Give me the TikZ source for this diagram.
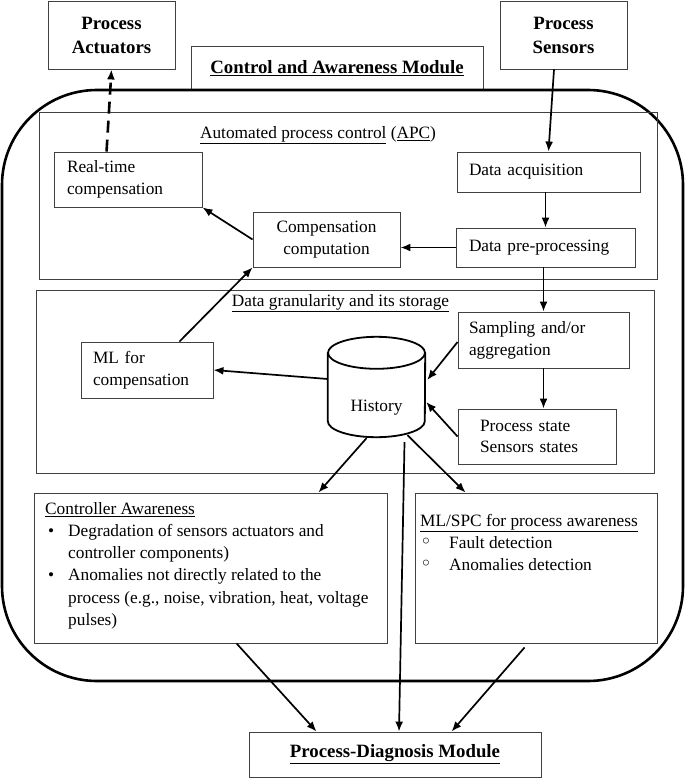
\documentclass[tikz,border=0pt]{standalone}
\usepackage{fontspec}
\setmainfont{Liberation Serif}
\newfontfamily\symfont{DejaVu Sans}
\usetikzlibrary{%
  arrows.meta,%
  calc,%
  positioning%
}
\tikzset{>={Latex[length=10pt,width=8pt]}}
\tikzset{
  box/.style={draw=black!75, line width=0.9pt, rectangle, inner ysep=0pt,
    align=left, font=\fontsize{17.3}{21.8}\selectfont},
  headbox/.style={draw=black!75, line width=0.9pt, rectangle, align=center,
    font=\bfseries\fontsize{18.8}{24}\selectfont},
  panel/.style={draw=black!75, line width=0.9pt, rectangle, inner sep=0pt},
  frame/.style={draw, line width=2.6pt, rectangle, rounded corners=95pt, inner sep=0pt},
  txt/.style={inner sep=0pt, align=left, font=\fontsize{17.3}{22.2}\selectfont},
  cyl/.style={line width=1.8pt},
  flow/.style={->, line width=1.7pt}
}
\newcommand{\hollow}{{\symfont\fontsize{20}{20}\selectfont ◦}}

\begin{document}
\begin{tikzpicture}[x=1pt, y=-1pt]
  \useasboundingbox[fill=white] (0,0) rectangle (685,778);

  % outside blocks
  \node[headbox, minimum width=127pt, minimum height=68pt] (act) at (111.5,35) {Process\\Actuators};
  \node[headbox, minimum width=127pt, minimum height=68pt] (sens) at (563.5,35) {Process\\Sensors};
  \node[headbox, minimum width=292pt, minimum height=44pt] (cam) at (337,68) {\underline{Control and Awareness Module}};
  \node[frame, minimum width=681pt, minimum height=591pt] (module) at (342.5,385.5) {};
  \node[headbox, minimum width=292pt, minimum height=45pt] (pd) at (395,754.5) {\underline{Process-Diagnosis Module}};

  % APC
  \node[panel, minimum width=618pt, minimum height=167pt] (apc) at (348,195.5) {};
  \node[txt] (apctitle) at (318,135) {\underline{Automated process control} (\underline{APC})};
  \node[box, minimum height=55pt, text width=122pt, inner xsep=13pt] (rt) at (128,179.5) {Real-time\\compensation};
  \node[box, minimum height=40pt, text width=159pt, inner xsep=12pt] (acq) at (548.5,172) {Data acquisition};
  \node[box, minimum height=55pt, text width=127pt, inner xsep=10pt, align=center] (cc) at (326.5,239.5) {Compensation\\computation};
  \node[box, minimum height=39pt, text width=153pt, inner xsep=13pt] (pre) at (545.5,247.5) {Data pre-processing};

  % data granularity
  \node[panel, minimum width=618pt, minimum height=183pt] (dg) at (345,381.5) {};
  \node[txt] (dgtitle) at (340.5,303) {\underline{Data granularity and its storage}};
  \node[box, minimum height=56pt, text width=149pt, inner xsep=11pt] (samp) at (543.5,340) {Sampling and/or\\aggregation};
  \node[box, minimum height=56pt, text width=108pt, inner xsep=12pt] (ml) at (147,370) {ML for\\compensation};
  \node[box, minimum height=55pt, text width=114pt, inner xsep=22pt] (st) at (537,436.5) {Process state\\Sensors states};
  \node[txt, minimum width=97pt, minimum height=100pt] (hist) at (376.5,387) {\raisebox{-24pt}[0pt][0pt]{History}};
  \draw[cyl] ($(hist.north)+(0,16)$) ellipse (48.5pt and 16pt);
  \draw[cyl] ($(hist.north west)+(0,16)$) -- ($(hist.south west)+(0,-16)$)
    arc[start angle=180, end angle=360, x radius=48.5pt, y radius=16pt]
    -- ($(hist.north east)+(0,16)$);

  % awareness
  \node[panel, minimum width=353pt, minimum height=150pt] (ca) at (210.5,568) {};
  \node[txt, anchor=north west] (catxt) at (45,502) {\underline{Controller Awareness}\\
    \makebox[23pt][l]{\hspace{3pt}\textbullet}Degradation of sensors actuators and\\
    \hspace*{23pt}controller components)\\
    \makebox[23pt][l]{\hspace{3pt}\textbullet}Anomalies not directly related to the\\
    \hspace*{23pt}process (e.g., noise, vibration, heat, voltage\\
    \hspace*{23pt}pulses)};
  \node[panel, minimum width=242pt, minimum height=150pt] (mlspc) at (536,568) {};
  \node[txt, anchor=north west] (mlspctxt) at (420,514) {\underline{ML/SPC for process awareness}\\
    \makebox[29pt][l]{\hspace{0pt}\hollow}Fault detection\\
    \makebox[29pt][l]{\hspace{0pt}\hollow}Anomalies detection};

  % connectors
  \draw[flow, dash pattern=on 12pt off 7pt, line width=2.6pt] ($(rt.north west)+(53,0)$) -- (act.south);
  \draw[flow] ($(sens.south)+(-9.5,0)$) -- (acq.north);
  \draw[flow] (pre.north |- acq.south) -- (pre.north);
  \draw[flow] (pre.west) -- (pre.west -| cc.east);
  \draw[flow] (cc.west) -- (rt.south east);
  \draw[flow] ($(ml.north east)+(-34,0)$) -- (cc.south west);
  \draw[flow] (samp.north |- pre.south) -- (samp.north);
  \draw[flow] (samp.south) -- (samp.south |- st.north);
  \draw[flow] ($(samp.west)+(0,2)$) -- ($(hist.east)+(2,-7)$);
  \draw[flow] (st.west) -- ($(hist.east)+(1,15)$);
  \draw[flow] ($(hist.west)+(0,-8)$) -- (ml.east);
  \draw[flow] ($(hist.south)+(-10,1)$) -- ($(ca.north east)+(-69,0)$);
  \draw[flow] ($(hist.south)+(31,-2)$) -- ($(mlspc.north west)+(51,0)$);
  \draw[flow] ($(hist.south)+(28,5)$) -- ($(pd.north)+(4,0)$);
  \draw[flow] ($(ca.south west)+(203,0)$) -- ($(pd.north west)+(68,0)$);
  \draw[flow] ($(mlspc.south west)+(110,4)$) -- ($(pd.north west)+(203,0)$);
\end{tikzpicture}
\end{document}
